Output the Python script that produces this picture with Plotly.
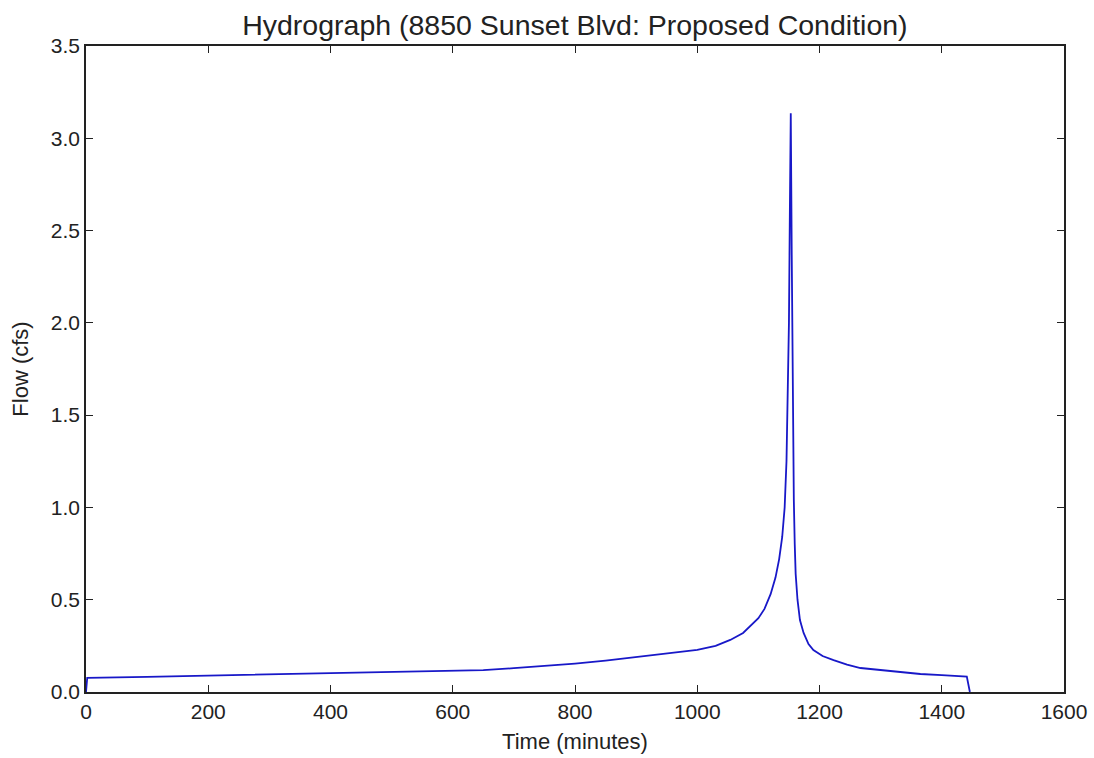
import plotly.graph_objects as go

time_min = [0, 2, 100, 200, 300, 400, 500, 600, 650, 700, 750, 800, 850, 900, 950, 1000,
            1030, 1054, 1075, 1090, 1100, 1110, 1120, 1128, 1134, 1139, 1143, 1146, 1148,
            1150, 1151.5, 1153, 1154.5, 1156, 1157, 1158, 1159.5, 1161, 1164, 1168, 1174,
            1182, 1190, 1205, 1223, 1245, 1267, 1300, 1340, 1365, 1400, 1441, 1446]
flow_cfs = [0, 0.076, 0.082, 0.088, 0.094, 0.101, 0.108, 0.115, 0.119, 0.129, 0.140, 0.154,
            0.170, 0.188, 0.207, 0.228, 0.250, 0.282, 0.320, 0.365, 0.40, 0.45, 0.53, 0.62,
            0.72, 0.84, 1.00, 1.25, 1.55, 2.0, 2.6, 3.135, 2.4, 1.7, 1.3, 1.04, 0.80, 0.64,
            0.50, 0.39, 0.32, 0.26, 0.227, 0.195, 0.173, 0.148, 0.130, 0.118, 0.105, 0.0975,
            0.091, 0.083, 0]

x_ticks = [0, 200, 400, 600, 800, 1000, 1200, 1400, 1600]
y_ticks = [0.0, 0.5, 1.0, 1.5, 2.0, 2.5, 3.0, 3.5]

fig = go.Figure()
fig.add_trace(go.Scatter(x=time_min, y=flow_cfs, mode="lines",
                         line=dict(color="#1818c8", width=1.8), showlegend=False))

font = "Liberation Sans, Arial, sans-serif"
axis_common = dict(showgrid=False, zeroline=False, showline=True, linecolor="#222",
                   linewidth=1.5, mirror="ticks", ticks="inside", ticklen=7,
                   tickwidth=1, tickcolor="#222", automargin=False,
                   tickfont=dict(family=font, size=21, color="#222"))

fig.update_layout(
    width=1094, height=758,
    paper_bgcolor="white", plot_bgcolor="white",
    margin=dict(l=86, r=30, t=46, b=66),
    title=dict(text="Hydrograph (8850 Sunset Blvd: Proposed Condition)",
               x=0.5255, xanchor="center", y=0.967, yanchor="middle",
               font=dict(family=font, size=28.5, color="#222")),
    xaxis=dict(range=[0, 1600], tickvals=x_ticks, ticktext=[str(v) for v in x_ticks],
               title=dict(text="Time (minutes)", font=dict(family=font, size=22, color="#222"),
                          standoff=12),
               **axis_common),
    yaxis=dict(range=[0, 3.5], tickvals=y_ticks, ticktext=[f"{v:.1f}" for v in y_ticks],
               title=dict(text="Flow (cfs)", font=dict(family=font, size=22, color="#222"),
                          standoff=16),
               **axis_common),
)

fig.write_html("out.html")
